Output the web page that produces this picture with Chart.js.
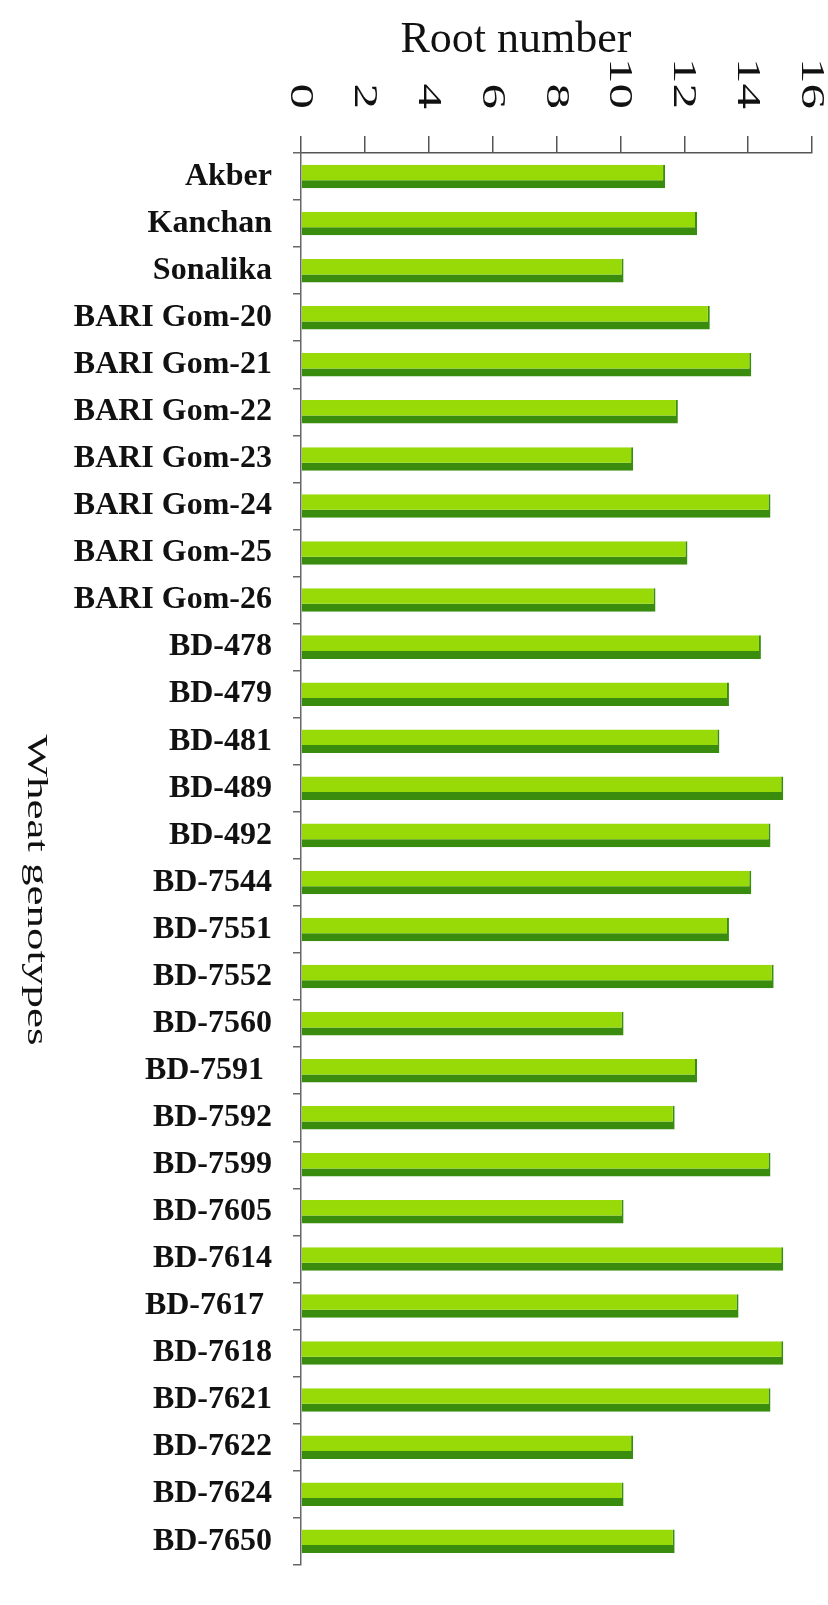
<!DOCTYPE html>
<html>
<head>
<meta charset="utf-8">
<script src="https://cdn.jsdelivr.net/npm/chart.js@4/dist/chart.umd.min.js"></script>
<style>
  html, body { margin: 0; padding: 0; background: #ffffff; }
  #wrap { width: 828px; height: 1605px; }
</style>
</head>
<body>
<div id="wrap"><canvas id="chart" width="828" height="1605"></canvas></div>
<script>
// Wheat genotypes and their mean root number
const genotypes = [
  'Akber', 'Kanchan', 'Sonalika', 'BARI Gom-20', 'BARI Gom-21', 'BARI Gom-22',
  'BARI Gom-23', 'BARI Gom-24', 'BARI Gom-25', 'BARI Gom-26', 'BD-478', 'BD-479',
  'BD-481', 'BD-489', 'BD-492', 'BD-7544', 'BD-7551', 'BD-7552', 'BD-7560',
  'BD-7591 ', 'BD-7592', 'BD-7599', 'BD-7605', 'BD-7614', 'BD-7617 ', 'BD-7618',
  'BD-7621', 'BD-7622', 'BD-7624', 'BD-7650'
];
const rootNumber = [
  11.4, 12.4, 10.1, 12.8, 14.1, 11.8,
  10.4, 14.7, 12.1, 11.1, 14.4, 13.4,
  13.1, 15.1, 14.7, 14.1, 13.4, 14.8, 10.1,
  12.4, 11.7, 14.7, 10.1, 15.1, 13.7, 15.1,
  14.7, 10.4, 10.1, 11.7
];
const valueTicks = [0, 2, 4, 6, 8, 10, 12, 14, 16];
const valueTitle = 'Root number';
const categoryTitle = 'Wheat genotypes';

const SERIF = '"Liberation Serif", "Times New Roman", "DejaVu Serif", serif';

// Titles and rotated value-axis numbers (read top to bottom, stretched along the text)
const axisText = {
  id: 'axisText',
  afterDraw(chart) {
    const ctx = chart.ctx;
    const xs = chart.scales.x;
    ctx.save();
    ctx.fillStyle = '#111111';

    // value axis title
    ctx.font = '44px ' + SERIF;
    ctx.textAlign = 'center';
    ctx.textBaseline = 'alphabetic';
    ctx.fillText(valueTitle, 516, 52);

    // value axis numbers, turned a quarter clockwise
    ctx.font = '34px ' + SERIF;
    valueTicks.forEach(v => {
      const x = xs.getPixelForValue(v);
      ctx.save();
      ctx.translate(x, 109);
      ctx.rotate(Math.PI / 2);
      ctx.scale(1.5, 1);
      ctx.textAlign = 'right';
      ctx.textBaseline = 'middle';
      ctx.fillText(String(v), 0, 1);
      ctx.restore();
    });

    // category axis title, turned a quarter clockwise
    ctx.save();
    ctx.translate(36, 890);
    ctx.rotate(Math.PI / 2);
    ctx.scale(1.5, 1);
    ctx.font = '30px ' + SERIF;
    ctx.textAlign = 'center';
    ctx.textBaseline = 'middle';
    ctx.fillText(categoryTitle, 0, 0);
    ctx.restore();

    ctx.restore();
  }
};

new Chart(document.getElementById('chart'), {
  type: 'bar',
  data: {
    labels: genotypes,
    datasets: [{
      data: rootNumber,
      backgroundColor: '#97da08',
      borderColor: '#3a8c0e',
      borderWidth: { top: 0, right: 2, bottom: 8, left: 0 },
      borderSkipped: 'start',
      barPercentage: 0.5,
      categoryPercentage: 1.0
    }]
  },
  options: {
    indexAxis: 'y',
    responsive: false,
    animation: false,
    devicePixelRatio: 1,
    layout: { padding: { top: 0, right: 16, bottom: 7, left: 0 } },
    plugins: { legend: { display: false }, tooltip: { enabled: false } },
    scales: {
      x: {
        position: 'top',
        min: 0,
        max: 16,
        ticks: { display: false, stepSize: 2 },
        grid: { drawOnChartArea: false, drawTicks: true, tickLength: 17, color: '#555555', lineWidth: 1.5 },
        border: { display: true, color: '#555555', width: 1.5 },
        afterFit(scale) { scale.height = 153; }
      },
      y: {
        ticks: {
          autoSkip: false,
          padding: 21,
          color: '#111111',
          font: { family: SERIF, size: 32, weight: 'bold' }
        },
        grid: { drawOnChartArea: false, offset: true, tickLength: 8, color: '#666666', lineWidth: 1.5 },
        border: { display: true, color: '#666666', width: 1.5 },
        afterFit(scale) { scale.width = 301; }
      }
    }
  },
  plugins: [axisText]
});
</script>
</body>
</html>
